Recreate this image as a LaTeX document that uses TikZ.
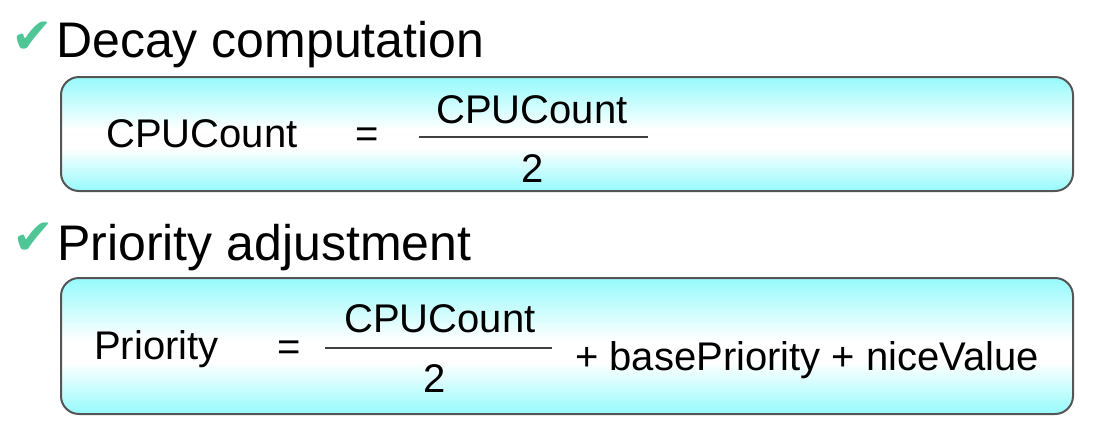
\documentclass[tikz,border=0pt]{standalone}
\usepackage{fontspec}
\setmainfont{Liberation Sans}
\newfontfamily\tickfont{DejaVu Sans}
\usetikzlibrary{positioning}
\definecolor{boxcyan}{RGB}{150,250,252}
\definecolor{boxedge}{RGB}{85,85,85}
\definecolor{tickgreen}{RGB}{80,198,150}
\pgfdeclareverticalshading{cyanfade}{100bp}{color(0bp)=(boxcyan); color(25bp)=(boxcyan); color(44bp)=(white); color(52bp)=(white); color(75bp)=(boxcyan); color(100bp)=(boxcyan)}

\begin{document}
\begin{tikzpicture}[x=1pt,y=-1pt,
    title/.style={inner sep=0pt,anchor=base west,font=\fontsize{50}{60}\selectfont},
    tick/.style={inner sep=0pt,anchor=base west,text=tickgreen,font=\tickfont\fontsize{50}{56}\selectfont},
    formbox/.style={draw=boxedge,line width=2pt,rounded corners=18pt,shade,shading=cyanfade,anchor=north west,inner sep=0pt},
    term/.style={inner sep=0pt,anchor=base west,font=\fontsize{40}{48}\selectfont},
    frac/.style={inner sep=0pt,anchor=base,font=\fontsize{40}{48}\selectfont},
    bar/.style={draw=black!75,line width=2pt}]
  \useasboundingbox (0,0) rectangle (1098,424);
  % decay
  \node [tick] (tick1) at (11,53) {✔};
  \node [title] (decay) at (56,57) {Decay computation};
  \node [formbox,minimum width=1012pt,minimum height=114pt] (box1) at (60,76) {};
  \node [term] (cpu) at (106,147) {CPUCount};
  \node [frac] (eq1) at (367.5,147) {=};
  \node [frac] (num1) at (532,123) {CPUCount};
  \node [frac] (den1) at (533,182) {2};
  \coordinate (bar1a) at (419,137);
  \coordinate (bar1b) at (648,137);
  \draw [bar] (bar1a) -- (bar1b);
  % priority
  \node [tick] (tick2) at (12,254) {✔};
  \node [title] (adjust) at (57,260) {Priority adjustment};
  \node [formbox,minimum width=1012pt,minimum height=136pt] (box2) at (60,277) {};
  \node [term] (prio) at (94,359) {Priority};
  \node [frac] (eq2) at (289.5,360) {=};
  \node [frac] (num2) at (440,332) {CPUCount};
  \node [frac] (den2) at (434.5,392) {2};
  \coordinate (bar2a) at (325,348);
  \coordinate (bar2b) at (552,348);
  \draw [bar] (bar2a) -- (bar2b);
  \node [term] (rest) at (575,370) {+ basePriority + niceValue};
\end{tikzpicture}
\end{document}
